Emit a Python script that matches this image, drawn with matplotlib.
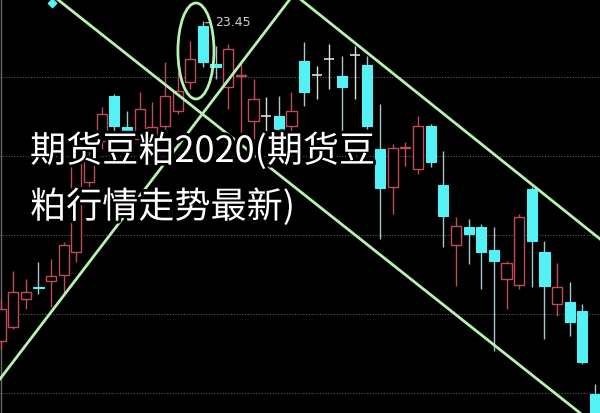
import numpy as np
import matplotlib.pyplot as plt
from matplotlib.patches import Rectangle, Ellipse
import matplotlib.patheffects as pe

plt.rcParams['font.family'] = ['Noto Sans CJK SC', 'DejaVu Sans']

# K线数据 (开, 高, 低, 收)
opens = [20.25, 20.39, 20.67, 20.79, 20.85, 20.91, 21.14, 21.84, 22.25, 22.70,
         22.39, 22.27, 22.17, 22.40, 22.55, 22.84, 23.40, 23.02, 22.79, 22.90,
         22.45, 22.50, 22.50, 22.40, 23.05, 22.91, 23.07, 22.90, 23.11, 23.01,
         22.17, 21.79, 22.18, 21.97, 22.40, 21.81, 21.21, 21.39, 21.39, 21.16,
         20.87, 20.81, 21.77, 21.14, 20.62, 20.64, 20.55, 19.72]
highs = [20.67, 20.95, 20.87, 21.04, 21.07, 21.24, 22.07, 22.17, 22.59, 22.72,
         22.55, 22.74, 22.64, 23.04, 22.94, 23.25, 23.45, 23.20, 23.22, 23.04,
         22.87, 22.69, 22.70, 22.74, 23.24, 23.00, 23.22, 23.10, 23.20, 23.10,
         22.62, 22.22, 22.24, 22.50, 22.42, 22.15, 21.49, 21.47, 21.42, 21.39,
         21.05, 21.52, 21.79, 21.25, 21.03, 20.84, 20.62, 19.82]
lows = [20.17, 20.37, 20.57, 20.72, 20.59, 20.72, 21.04, 21.77, 22.17, 22.32,
        22.19, 22.17, 22.09, 22.32, 22.52, 22.77, 22.99, 22.87, 22.57, 22.27,
        22.27, 22.27, 22.34, 22.34, 22.60, 22.67, 22.77, 22.35, 22.67, 22.37,
        21.27, 21.52, 22.00, 21.92, 21.99, 21.19, 20.80, 21.02, 20.77, 20.15,
        20.57, 20.77, 20.79, 20.27, 20.50, 20.30, 20.02, 19.42]
closes = [20.57, 20.74, 20.74, 20.78, 20.90, 21.21, 22.04, 22.07, 22.52, 22.40,
          22.27, 22.57, 22.39, 22.70, 22.75, 23.07, 23.04, 22.99, 23.17, 22.91,
          22.67, 22.50, 22.37, 22.55, 22.74, 22.91, 23.07, 22.79, 23.11, 22.40,
          21.78, 22.18, 22.19, 22.40, 22.04, 21.50, 21.40, 21.32, 21.14, 21.05,
          21.03, 21.49, 21.25, 20.80, 20.79, 20.44, 20.04, 19.47]

grid_levels = [22.89, 22.10, 21.31, 20.52, 19.73]
max_label = "23.45"
title_lines = ["期货豆粕2020(期货豆", "粕行情走势最新)"]

red = "#c04a55"
cyan = "#55f2f5"
cyan_wick = "#a8c4cc"
green = "#b8f2b0"

fig = plt.figure(figsize=(6, 4.14), dpi=100)
fig.patch.set_facecolor("black")
ax = fig.add_axes([0, 0, 1, 1])
ax.set_facecolor("black")
ax.set_xlim(-0.04, 47.39)
ax.set_ylim(19.53, 23.67)
ax.axis("off")

for lv in grid_levels:
    ax.axhline(lv, color="#5a5a5a", lw=0.8, ls=(0, (1, 1.5)), zorder=1)
ax.axvline(0.05, color="#6a6a6a", lw=1, zorder=1)

w = 0.8
for i, (o, h, l, c) in enumerate(zip(opens, highs, lows, closes)):
    if c > o:
        ax.vlines(i, l, o, color=red, lw=1, zorder=2)
        ax.vlines(i, c, h, color=red, lw=1, zorder=2)
        ax.add_patch(Rectangle((i - w / 2, o), w, c - o, facecolor="black",
                               edgecolor=red, lw=1, zorder=3))
    elif c < o:
        ax.vlines(i, l, h, color=cyan_wick, lw=1, zorder=2)
        ax.add_patch(Rectangle((i - w / 2, c), w, o - c, facecolor=cyan,
                               edgecolor=cyan, lw=0.8, zorder=3))
    else:
        ax.vlines(i, l, h, color="#dcdcdc", lw=1, zorder=2)
        ax.hlines(o, i - w / 2, i + w / 2, color="#dcdcdc", lw=1.2, zorder=3)

# 趋势线
ax.plot([4.47, 45.81], [23.67, 19.53], color=green, lw=2, zorder=4)
ax.plot([-0.04, 22.89], [19.87, 23.67], color=green, lw=2, zorder=4)
ax.plot([23.68, 47.39], [23.67, 21.27], color=green, lw=2, zorder=4)
ax.add_patch(Ellipse((15.45, 23.15), 2.85, 0.96, fill=False, edgecolor=green,
                     lw=2, zorder=4))

ax.scatter([4.07], [23.63], marker="D", s=18, color=cyan, zorder=5)

top = int(np.argmax(highs))
ax.annotate(max_label, xy=(top, highs[top] - 0.02), xytext=(top + 1.0, highs[top] + 0.0),
            color="#d0d0d0", fontsize=9, va="center", family="DejaVu Sans",
            arrowprops=dict(arrowstyle="-", color="#d0d0d0", lw=0.8), zorder=6)

stroke = [pe.withStroke(linewidth=4, foreground="black")]
ax.text(0.05, 0.632, title_lines[0], transform=ax.transAxes, color="white",
        fontsize=26, va="center", ha="left", path_effects=stroke, zorder=7)
ax.text(0.05, 0.497, title_lines[1], transform=ax.transAxes, color="white",
        fontsize=26, va="center", ha="left", path_effects=stroke, zorder=7)

fig.savefig("out.png", dpi=100, facecolor="black")
